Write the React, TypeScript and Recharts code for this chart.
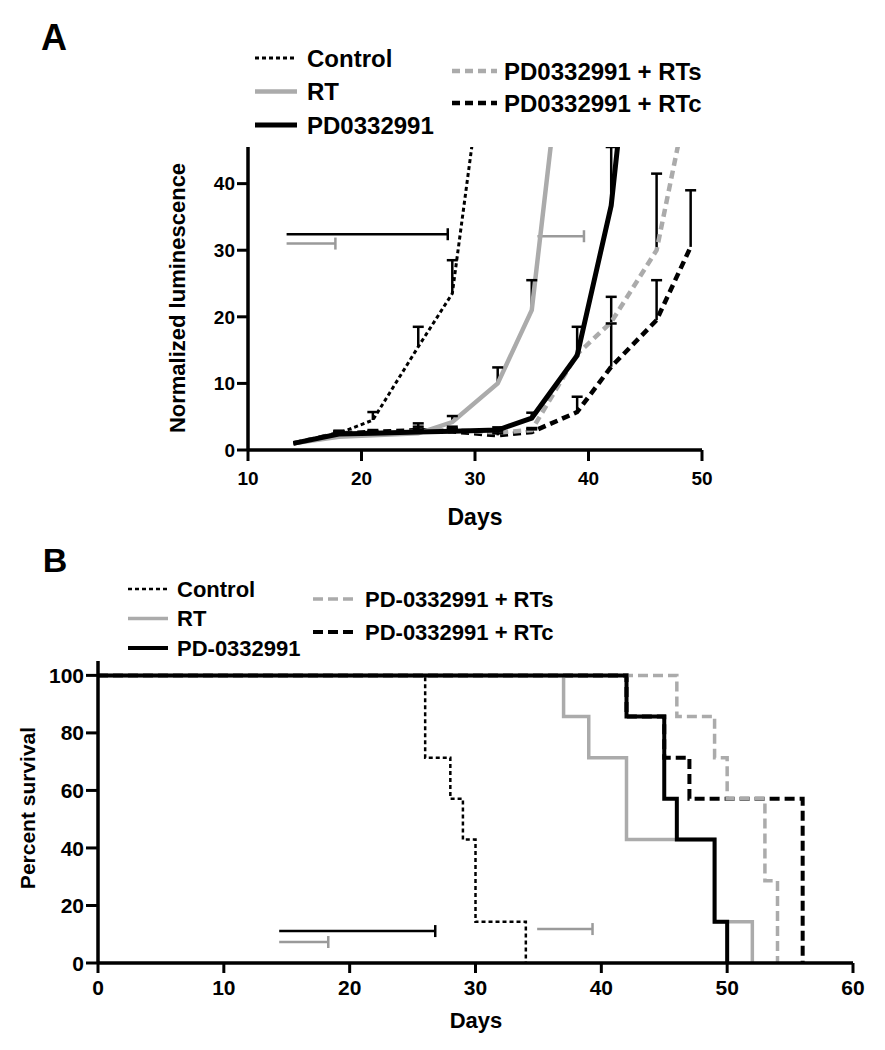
import React from "react";
import { ComposedChart, Line, XAxis, YAxis } from "recharts";

const FONT = '"Liberation Sans", Arial, Helvetica, sans-serif';
const GREY = "#ababab";
const BAR_GREY = "#9a9a9a";

// ---- Panel A: normalized luminescence vs days ----
const controlDaysA = [14, 18, 21, 25, 28, 31];
const controlLumA = [1, 2.5, 4.5, 15.5, 23.5, 62];
const controlErrA = [null, 0.4, 1.2, 3, 5, null];

const rtDaysA = [14, 18, 21, 25, 28, 32, 35, 39];
const rtLumA = [1, 2, 2.2, 2.5, 4.2, 10, 21, 80];
const rtErrA = [null, 0.3, 0.3, 0.4, 0.9, 2.4, 4.5, null];

const pdDaysA = [14, 18, 21, 25, 28, 32, 35, 39, 42, 46];
const pdLumA = [1, 2.4, 2.5, 2.7, 2.8, 3, 4.8, 14.2, 36.7, 100];
const pdErrA = [null, 0.3, 0.3, 0.4, 0.4, 0.4, 0.8, 4.3, 8.8, null];

const comboDaysA = [14, 18, 21, 25, 28, 32, 35, 39, 42, 46, 49];
const pdRtsLumA = [1, 2.4, 2.4, 2.8, 3, 2.6, 3, 14.4, 19.2, 30, 55];
const pdRtsErrA = [null, 0.2, 0.3, 1.2, 0.5, 0.3, 0.3, null, 3.8, 11.5, null];
const pdRtcLumA = [1, 2.5, 2.7, 3, 2.8, 2.2, 2.7, 5.7, 12.5, 19.5, 30.5];
const pdRtcErrA = [null, 0.3, 0.3, 0.5, 0.4, 0.3, 0.4, 2.3, 6.5, 6, 8.5];

// horizontal range bars
const rangeBarsA = [
  { from: 13.4, to: 27.6, level: 32.4, grey: false },
  { from: 13.4, to: 17.7, level: 31.0, grey: true },
  { from: 35.5, to: 39.6, level: 32.1, grey: true },
];

const xTicksA = [10, 20, 30, 40, 50];
const yTicksA = [0, 10, 20, 30, 40];

// ---- Panel B: Kaplan-Meier survival ----
const controlDaysB = [0, 26, 28, 29, 30, 34];
const controlSurvB = [100, 71.4, 57.1, 42.9, 14.3, 0];
const rtDaysB = [0, 37, 39, 42, 49, 52];
const rtSurvB = [100, 85.7, 71.4, 42.9, 14.3, 0];
const pdDaysB = [0, 42, 45, 46, 49, 50];
const pdSurvB = [100, 85.7, 57.1, 42.9, 14.3, 0];
const pdRtsDaysB = [0, 46, 49, 50, 53, 54];
const pdRtsSurvB = [100, 85.7, 71.4, 57.1, 28.6, 0];
const pdRtcDaysB = [0, 42, 45, 47, 56];
const pdRtcSurvB = [100, 85.7, 71.4, 57.1, 0];

const rangeBarsB = [
  { from: 14.4, to: 26.8, level: 11.1, grey: false },
  { from: 14.4, to: 18.3, level: 7.3, grey: true },
  { from: 34.9, to: 39.3, level: 11.8, grey: true },
];

const xTicksB = [0, 10, 20, 30, 40, 50, 60];
const yTicksB = [0, 20, 40, 60, 80, 100];

const legendA = ["Control", "RT", "PD0332991", "PD0332991 + RTs", "PD0332991 + RTc"];
const legendB = ["Control", "RT", "PD-0332991", "PD-0332991 + RTs", "PD-0332991 + RTc"];

type Sty = { stroke: string; width: number; dash?: string };
const stylesA: Sty[] = [
  { stroke: "#000", width: 3, dash: "4 3" },
  { stroke: GREY, width: 4.5 },
  { stroke: "#000", width: 5 },
  { stroke: GREY, width: 4.5, dash: "8 5" },
  { stroke: "#000", width: 4.5, dash: "8 5" },
];
const stylesB: Sty[] = [
  { stroke: "#000", width: 2.5, dash: "4 3" },
  { stroke: GREY, width: 3.5 },
  { stroke: "#000", width: 4 },
  { stroke: GREY, width: 3.5, dash: "10 5" },
  { stroke: "#000", width: 4, dash: "10 5" },
];

const rows = (days: number[], vals: number[]) => days.map((d, i) => ({ day: d, val: vals[i] }));

// one-sided (upward) error whisker from the mean to mean + SEM
const whiskers = (days: number[], vals: number[], errs: (number | null)[]) =>
  days
    .map((d, i) => (errs[i] != null ? [{ day: d, val: vals[i] }, { day: d, val: vals[i] + (errs[i] as number) }] : null))
    .filter(Boolean) as { day: number; val: number }[][];

const span = (b: { from: number; to: number; level: number }) => [
  { day: b.from, val: b.level },
  { day: b.to, val: b.level },
];

const capDot = (color: string, half: number, vertical: boolean) => (p: any) => {
  if (p.index !== 1) return <g key={`c${p.index}`} />;
  return vertical ? (
    <line key={`c${p.index}`} x1={p.cx} x2={p.cx} y1={p.cy - half} y2={p.cy + half} stroke={color} strokeWidth={2.5} />
  ) : (
    <line key={`c${p.index}`} x1={p.cx - half} x2={p.cx + half} y1={p.cy} y2={p.cy} stroke={color} strokeWidth={2.5} />
  );
};

const XTick = (size: number) => (p: any) => (
  <text x={p.x} y={p.y} dy="0.72em" textAnchor="middle" fontSize={size} fontWeight={700} fontFamily={FONT} fill="#000">
    {p.payload.value}
  </text>
);
const YTick = (size: number) => (p: any) => (
  <text x={p.x} y={p.y} dy="0.36em" textAnchor="end" fontSize={size} fontWeight={700} fontFamily={FONT} fill="#000">
    {p.payload.value}
  </text>
);

function seriesLine(key: string, data: any[], s: Sty, step = false) {
  return (
    <Line
      key={key}
      data={data}
      dataKey="val"
      type={step ? "stepAfter" : "linear"}
      stroke={s.stroke}
      strokeWidth={s.width}
      strokeDasharray={s.dash}
      dot={false}
      activeDot={false}
      legendType="none"
      isAnimationActive={false}
    />
  );
}

function whiskerLines(prefix: string, days: number[], vals: number[], errs: (number | null)[]) {
  return whiskers(days, vals, errs).map((w, i) => (
    <Line
      key={`${prefix}${i}`}
      data={w}
      dataKey="val"
      type="linear"
      stroke="#000"
      strokeWidth={2.5}
      dot={capDot("#000", 5.5, false)}
      activeDot={false}
      legendType="none"
      isAnimationActive={false}
    />
  ));
}

function rangeLines(prefix: string, bars: typeof rangeBarsA) {
  return bars.map((b, i) => (
    <Line
      key={`${prefix}${i}`}
      data={span(b)}
      dataKey="val"
      type="linear"
      stroke={b.grey ? BAR_GREY : "#000"}
      strokeWidth={2.5}
      dot={capDot(b.grey ? BAR_GREY : "#000", 6, true)}
      activeDot={false}
      legendType="none"
      isAnimationActive={false}
    />
  ));
}

function LegendRow(props: { x1: number; x2: number; tx: number; y: number; text: string; s: Sty; size: number }) {
  const { x1, x2, tx, y, text, s, size } = props;
  return (
    <g>
      <line x1={x1} x2={x2} y1={y} y2={y} stroke={s.stroke} strokeWidth={s.width} strokeDasharray={s.dash} />
      <text x={tx} y={y} dominantBaseline="central" fontSize={size} fontWeight={700} fontFamily={FONT} fill="#000">
        {text}
      </text>
    </g>
  );
}

export default function App() {
  const axisLine = { stroke: "#000", strokeWidth: 3.5 };
  const tickLine = { stroke: "#000", strokeWidth: 3 };
  return (
    <div style={{ position: "absolute", left: 0, top: 0, width: 885, height: 1050, background: "#fff", fontFamily: FONT }}>
      <div style={{ position: "absolute", left: 0, top: 0 }}>
        <ComposedChart width={885} height={540} margin={{ top: 147, right: 183, bottom: 30, left: 178 }}>
          <XAxis
            dataKey="day"
            type="number"
            domain={[10, 50]}
            ticks={xTicksA}
            allowDataOverflow
            height={60}
            axisLine={axisLine}
            tickLine={tickLine}
            tickSize={11}
            tickMargin={10}
            tick={XTick(19)}
          />
          <YAxis
            type="number"
            domain={[0, 45.5]}
            ticks={yTicksA}
            allowDataOverflow
            width={70}
            axisLine={axisLine}
            tickLine={tickLine}
            tickSize={11}
            tickMargin={2}
            tick={YTick(19)}
          />
          {rangeLines("ra", rangeBarsA)}
          {whiskerLines("ea5", comboDaysA, pdRtcLumA, pdRtcErrA)}
          {whiskerLines("ea4", comboDaysA, pdRtsLumA, pdRtsErrA)}
          {whiskerLines("ea2", rtDaysA, rtLumA, rtErrA)}
          {whiskerLines("ea3", pdDaysA, pdLumA, pdErrA)}
          {whiskerLines("ea1", controlDaysA, controlLumA, controlErrA)}
          {seriesLine("a5", rows(comboDaysA, pdRtcLumA), stylesA[4])}
          {seriesLine("a4", rows(comboDaysA, pdRtsLumA), stylesA[3])}
          {seriesLine("a2", rows(rtDaysA, rtLumA), stylesA[1])}
          {seriesLine("a3", rows(pdDaysA, pdLumA), stylesA[2])}
          {seriesLine("a1", rows(controlDaysA, controlLumA), stylesA[0])}
        </ComposedChart>
      </div>
      <div style={{ position: "absolute", left: 0, top: 540 }}>
        <ComposedChart width={885} height={510} margin={{ top: 121, right: 32, bottom: 27, left: 28 }}>
          <XAxis
            dataKey="day"
            type="number"
            domain={[0, 60]}
            ticks={xTicksB}
            height={60}
            axisLine={axisLine}
            tickLine={tickLine}
            tickSize={10}
            tickMargin={7}
            tick={XTick(21)}
          />
          <YAxis
            type="number"
            domain={[0, 105]}
            ticks={yTicksB}
            allowDataOverflow
            width={70}
            axisLine={axisLine}
            tickLine={tickLine}
            tickSize={12}
            tickMargin={2}
            tick={YTick(21)}
          />
          {rangeLines("rb", rangeBarsB)}
          {seriesLine("b5", rows(pdRtcDaysB, pdRtcSurvB), stylesB[4], true)}
          {seriesLine("b4", rows(pdRtsDaysB, pdRtsSurvB), stylesB[3], true)}
          {seriesLine("b2", rows(rtDaysB, rtSurvB), stylesB[1], true)}
          {seriesLine("b3", rows(pdDaysB, pdSurvB), stylesB[2], true)}
          {seriesLine("b1", rows(controlDaysB, controlSurvB), stylesB[0], true)}
        </ComposedChart>
      </div>
      <svg width={885} height={1050} style={{ position: "absolute", left: 0, top: 0, pointerEvents: "none" }}>
        <text x={54} y={50} textAnchor="middle" fontSize={36} fontWeight={700} fontFamily={FONT}>A</text>
        <text x={55} y={572} textAnchor="middle" fontSize={34} fontWeight={700} fontFamily={FONT}>B</text>

        {[0, 1, 2].map((i) => (
          <LegendRow key={`la${i}`} x1={255} x2={297} tx={307} y={58 + i * 33.5} text={legendA[i]} s={stylesA[i]} size={24} />
        ))}
        {[3, 4].map((i, k) => (
          <LegendRow key={`la${i}`} x1={452} x2={497} tx={504} y={71 + k * 32} text={legendA[i]} s={stylesA[i]} size={24} />
        ))}
        {[0, 1, 2].map((i) => (
          <LegendRow key={`lb${i}`} x1={128} x2={168} tx={177} y={589 + i * 29.5} text={legendB[i]} s={stylesB[i]} size={22} />
        ))}
        {[3, 4].map((i, k) => (
          <LegendRow key={`lb${i}`} x1={313} x2={357} tx={365} y={599 + k * 33} text={legendB[i]} s={stylesB[i]} size={22} />
        ))}

        <text x={177} y={298} transform="rotate(-90 177 298)" textAnchor="middle" dominantBaseline="central" fontSize={22} fontWeight={700} fontFamily={FONT}>
          Normalized luminescence
        </text>
        <text x={475} y={517} textAnchor="middle" dominantBaseline="central" fontSize={23} fontWeight={700} fontFamily={FONT}>
          Days
        </text>
        <text x={27} y={808} transform="rotate(-90 27 808)" textAnchor="middle" dominantBaseline="central" fontSize={21} fontWeight={700} fontFamily={FONT}>
          Percent survival
        </text>
        <text x={476} y={1020} textAnchor="middle" dominantBaseline="central" fontSize={22} fontWeight={700} fontFamily={FONT}>
          Days
        </text>
      </svg>
    </div>
  );
}
